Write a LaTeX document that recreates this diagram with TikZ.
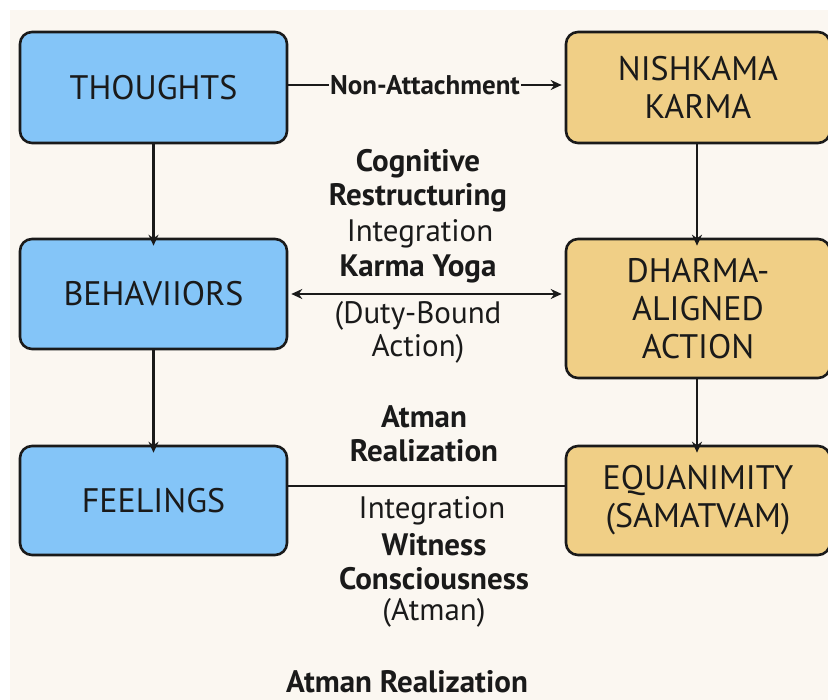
\documentclass[tikz,border=0pt]{standalone}
\usepackage{fontspec}
\setmainfont{PT Sans}
\usetikzlibrary{arrows.meta}
\definecolor{bg}{HTML}{FBF7F1}
\definecolor{bluebox}{HTML}{84C5F8}
\definecolor{goldbox}{HTML}{F0CF86}
\definecolor{ink}{HTML}{1A1A1A}
\begin{document}
\begin{tikzpicture}[x=1pt,y=-1pt,
  box/.style={draw=ink,line width=2.6pt,rounded corners=12pt,align=center,
    font=\fontsize{34}{38}\selectfont,text=ink,inner sep=0pt},
  bbox/.style={box,fill=bluebox},
  gbox/.style={box,fill=goldbox},
  lab/.style={align=center,text=ink,font=\fontsize{31}{34}\selectfont},
  blab/.style={lab,font=\fontsize{31}{34}\selectfont\bfseries},
  conn/.style={draw=ink,line width=2.5pt},
  arr/.style={conn,-{Stealth[length=11pt,width=10pt]}}
]
\useasboundingbox (0,0) rectangle (828,700);
\fill[white] (0,0) rectangle (828,700);
\fill[bg] (10,10) rectangle (828,700);

\node[bbox,minimum width=267pt,minimum height=111pt] (th) at (153.5,87.5) {THOUGHTS};
\node[gbox,minimum width=264pt,minimum height=111pt] (nk) at (698,87.5) {NISHKAMA\\KARMA};
\node[bbox,minimum width=267pt,minimum height=110pt] (be) at (153.5,294) {BEHAVIIORS};
\node[gbox,minimum width=264pt,minimum height=139pt] (da) at (698,308.5) {DHARMA-\\ALIGNED\\ACTION};
\node[bbox,minimum width=267pt,minimum height=109pt] (fe) at (153.5,500.5) {FEELINGS};
\node[gbox,minimum width=264pt,minimum height=109pt] (eq) at (698,500.5) {EQUANIMITY\\(SAMATVAM)};

\node[lab,font=\fontsize{27}{30}\selectfont\bfseries,inner sep=1pt] (na) at (425,85) {Non-Attachment};
\draw[conn] (th.east |- na) -- (na.west);
\draw[arr] (na.east) -- ([xshift=-3pt]nk.west |- na);

\draw[arr] (th.south) -- ([yshift=-8pt]be.north);
\draw[arr] ([xshift=-1pt]nk.south) -- ([xshift=-1pt,yshift=-8pt]da.north);
\draw[arr] (be.south) -- ([yshift=-8pt]fe.north);
\draw[arr] ([xshift=-1pt]da.south) -- ([xshift=-1pt,yshift=-8pt]eq.north);

\draw[conn,{Stealth[length=11pt,width=10pt]}-{Stealth[length=11pt,width=10pt]}] ([xshift=3pt]be.east) -- ([xshift=-3pt]be.east -| da.west);
\draw[conn] (fe.east |- 0,486) coordinate (fa) -- (eq.west |- fa);

\node[blab] (c1) at (418,164) {Cognitive};
\node[blab] (c2) at (418,198) {Restructuring};
\node[lab] (c3) at (420,234) {Integration};
\node[blab] (c4) at (418,269) {Karma Yoga};
\node[lab] (c5) at (418,316) {(Duty-Bound};
\node[lab] (c6) at (418,349) {Action)};

\node[blab] (a1) at (424,417) {Atman};
\node[blab] (a2) at (424,451) {Realization};
\node[lab] (a3) at (432,511) {Integration};
\node[blab] (a4) at (434,545) {Witness};
\node[blab] (a5) at (434,579) {Consciousness};
\node[lab] (a6) at (434,613) {(Atman)};
\node[blab,inner sep=0pt] (a7) at (407,682) {Atman Realization};
\end{tikzpicture}
\end{document}
